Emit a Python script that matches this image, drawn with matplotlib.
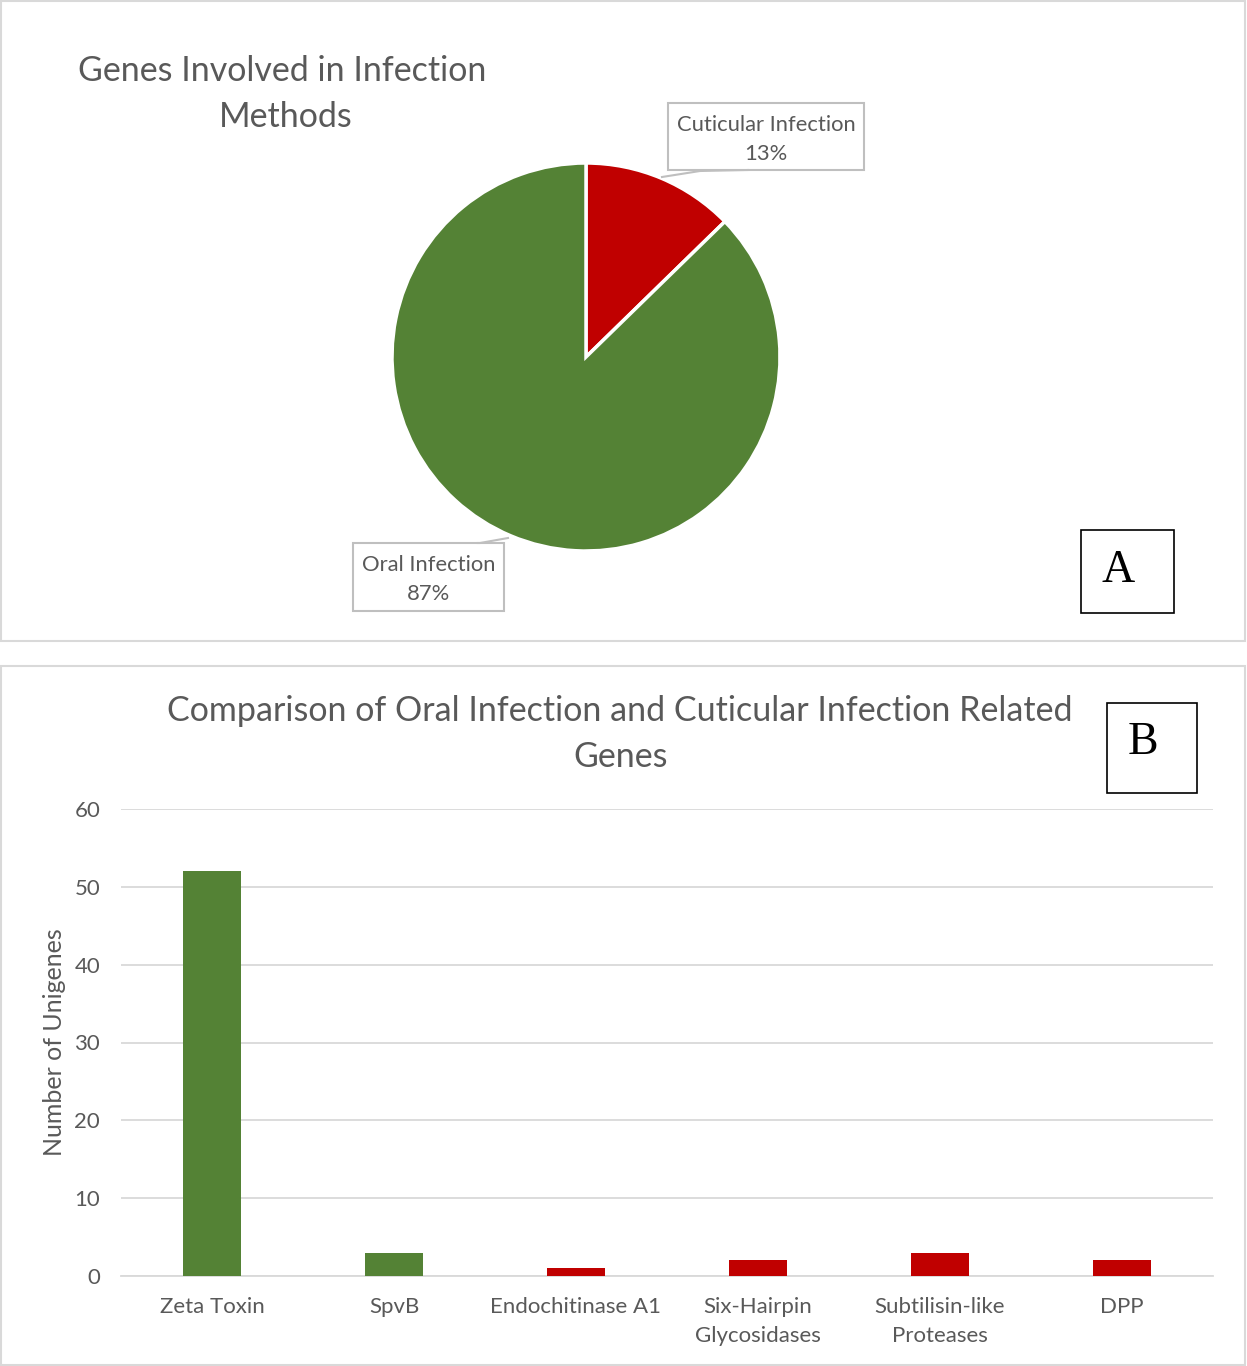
import matplotlib
matplotlib.use("Agg")
import matplotlib.pyplot as plt
from matplotlib.patches import Rectangle
from matplotlib.lines import Line2D

# ---- data ----
pie_labels = ["Cuticular Infection", "Oral Infection"]
pie_values = [8, 55]
pie_colors = ["#C00000", "#548235"]

categories = ["Zeta Toxin", "SpvB", "Endochitinase A1", "Six-Hairpin\nGlycosidases",
              "Subtilisin-like\nProteases", "DPP"]
counts = [52, 3, 1, 2, 3, 2]
bar_colors = ["#548235", "#548235", "#C00000", "#C00000", "#C00000", "#C00000"]
yticks = [0, 10, 20, 30, 40, 50, 60]

W, H = 1247, 1366
fig = plt.figure(figsize=(W / 100, H / 100), dpi=100)
plt.rcParams['font.family'] = ['Lato', 'DejaVu Sans']
TXT = "#595959"
GRID = "#D9D9D9"

def fx(x):
    return x / W

def fy(y):
    return 1 - y / H

# panel borders
fig.patches.append(Rectangle((fx(1), fy(641)), fx(1245) - fx(1), fy(1) - fy(641),
                             transform=fig.transFigure, fill=False, ec=GRID, lw=1.5))
fig.patches.append(Rectangle((fx(1), fy(1365)), fx(1245) - fx(1), fy(666) - fy(1365),
                             transform=fig.transFigure, fill=False, ec=GRID, lw=1.5))

# ---- Panel A: pie ----
cx, cy, r = 586, 357, 194
axp = fig.add_axes([fx(cx - r), fy(cy + r), fx(2 * r), (2 * r) / H])
axp.pie(pie_values, colors=pie_colors, startangle=90, counterclock=False,
        wedgeprops=dict(edgecolor="white", linewidth=2.5), radius=1.0)
axp.set_xlim(-1, 1)
axp.set_ylim(-1, 1)
axp.set_aspect('equal')
axp.axis('off')

fig.text(fx(282), fy(71), "Genes Involved in Infection", ha='center', va='center',
         fontsize=24.5, color=TXT)
fig.text(fx(286), fy(117), "Methods", ha='center', va='center', fontsize=24.5, color=TXT)

tot = sum(pie_values)
pcts = [round(v / tot * 100) for v in pie_values]

def callout(x0, y0, x1, y1, label, pct):
    fig.patches.append(Rectangle((fx(x0), fy(y1)), fx(x1) - fx(x0), fy(y0) - fy(y1),
                                 transform=fig.transFigure, fill=True, fc="white",
                                 ec="#BFBFBF", lw=1.5))
    xc = (x0 + x1) / 2
    fig.text(fx(xc), fy(y0 + 22), label, ha='center', va='center', fontsize=15.8, color=TXT)
    fig.text(fx(xc), fy(y0 + 51), f"{pct}%", ha='center', va='center', fontsize=15.8, color=TXT)

callout(668, 103, 864, 170, pie_labels[0], pcts[0])
callout(353, 543, 504, 611, pie_labels[1], pcts[1])
fig.lines.append(Line2D([fx(748), fx(700), fx(662)], [fy(170), fy(171), fy(177)],
                        transform=fig.transFigure, color="#BFBFBF", lw=1.5))
fig.lines.append(Line2D([fx(508), fx(480), fx(478)], [fy(538), fy(543), fy(543)],
                        transform=fig.transFigure, color="#BFBFBF", lw=1.5))

# A label box
fig.patches.append(Rectangle((fx(1081), fy(613)), fx(1174) - fx(1081), fy(530) - fy(613),
                             transform=fig.transFigure, fill=False, ec="black", lw=1.2))
fig.text(fx(1118), fy(571), "A", ha='center', va='center', fontsize=33,
         family='Liberation Serif', color='black')

# ---- Panel B: bars ----
axb = fig.add_axes([fx(121), fy(1276), fx(1213) - fx(121), fy(809) - fy(1276)])
x = list(range(len(categories)))
axb.bar(x, counts, width=0.32, color=bar_colors, zorder=3)
axb.set_xlim(-0.5, len(categories) - 0.5)
axb.set_ylim(0, 60)
axb.set_yticks(yticks)
axb.set_yticklabels([str(t) for t in yticks], fontsize=16, color=TXT)
axb.set_xticks(x)
axb.set_xticklabels(categories, fontsize=16, color=TXT, linespacing=1.6)
axb.tick_params(axis='y', length=0, pad=15)
axb.tick_params(axis='x', length=0, pad=15)
axb.yaxis.grid(True, color=GRID, lw=1.3, zorder=0)
axb.set_axisbelow(True)
for s in ['top', 'right', 'left']:
    axb.spines[s].set_visible(False)
axb.spines['bottom'].set_color(GRID)
axb.spines['bottom'].set_linewidth(1.3)
axb.set_ylabel("Number of Unigenes", fontsize=18, color=TXT, labelpad=6)

fig.text(fx(620), fy(711), "Comparison of Oral Infection and Cuticular Infection Related",
         ha='center', va='center', fontsize=24.5, color=TXT)
fig.text(fx(621), fy(757), "Genes", ha='center', va='center', fontsize=24.5, color=TXT)

fig.patches.append(Rectangle((fx(1107), fy(793)), fx(1197) - fx(1107), fy(703) - fy(793),
                             transform=fig.transFigure, fill=False, ec="black", lw=1.2))
fig.text(fx(1143), fy(743), "B", ha='center', va='center', fontsize=33,
         family='Liberation Serif', color='black')

fig.savefig("out.png", dpi=100)
